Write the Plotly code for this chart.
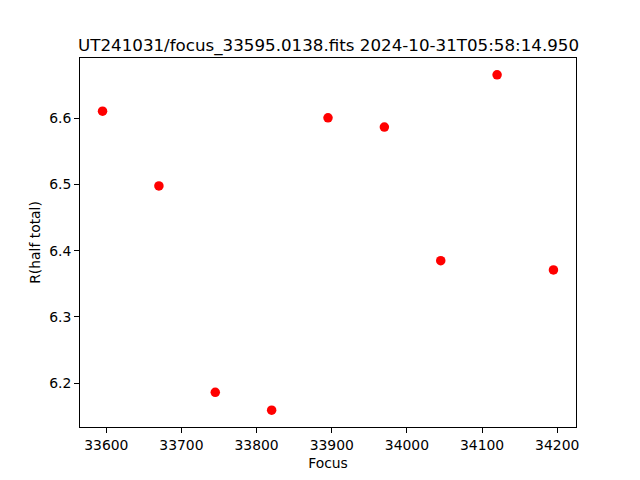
import plotly.graph_objects as go

focus = [33595, 33670, 33745, 33820, 33895, 33970, 34045, 34120, 34195]
r_half = [6.611, 6.498, 6.186, 6.159, 6.601, 6.587, 6.385, 6.666, 6.371]
x_ticks = [33600, 33700, 33800, 33900, 34000, 34100, 34200]
y_ticks = [6.2, 6.3, 6.4, 6.5, 6.6]
title = "UT241031/focus_33595.0138.fits 2024-10-31T05:58:14.950"

def padded(v, m=0.05):
    lo, hi = min(v), max(v)
    d = (hi - lo) * m
    return [lo - d, hi + d]

# page body has an 8px margin; compensate so the plot area lands where the reference's does
W, H = 632, 472
L, R, T, B = 72, 64, 49.6, 52.8
font = "DejaVu Sans"

fig = go.Figure(go.Scatter(
    x=focus, y=r_half, mode="markers",
    marker=dict(color="red", size=9.5, line=dict(width=0)),
))

axis_common = dict(
    showgrid=False, zeroline=False, showline=True, linecolor="black", linewidth=1.1,
    mirror=True, ticks="outside", ticklen=4.9, tickwidth=1.1, tickcolor="black",
    tickfont=dict(family=font, size=13.9, color="black"),
)
fig.update_xaxes(range=padded(focus), tickvals=x_ticks, ticktext=[str(t) for t in x_ticks],
                 title=dict(text="Focus", font=dict(family=font, size=13.9, color="black"), standoff=6),
                 **axis_common)
fig.update_yaxes(range=padded(r_half), tickvals=y_ticks, ticktext=[f"{t:.1f}" for t in y_ticks],
                 title=dict(text="R(half total)", font=dict(family=font, size=13.9, color="black"), standoff=5),
                 **axis_common)

fig.update_layout(
    width=W, height=H, autosize=False,
    margin=dict(l=L, r=R, t=T, b=B, pad=0),
    plot_bgcolor="white", paper_bgcolor="white",
    showlegend=False,
    annotations=[dict(text=title, x=0.5, xref="paper", y=1, yref="paper",
                      xanchor="center", yanchor="bottom", yshift=0, showarrow=False,
                      font=dict(family=font, size=16.7, color="black"))],
)

fig.write_html("out.html")
